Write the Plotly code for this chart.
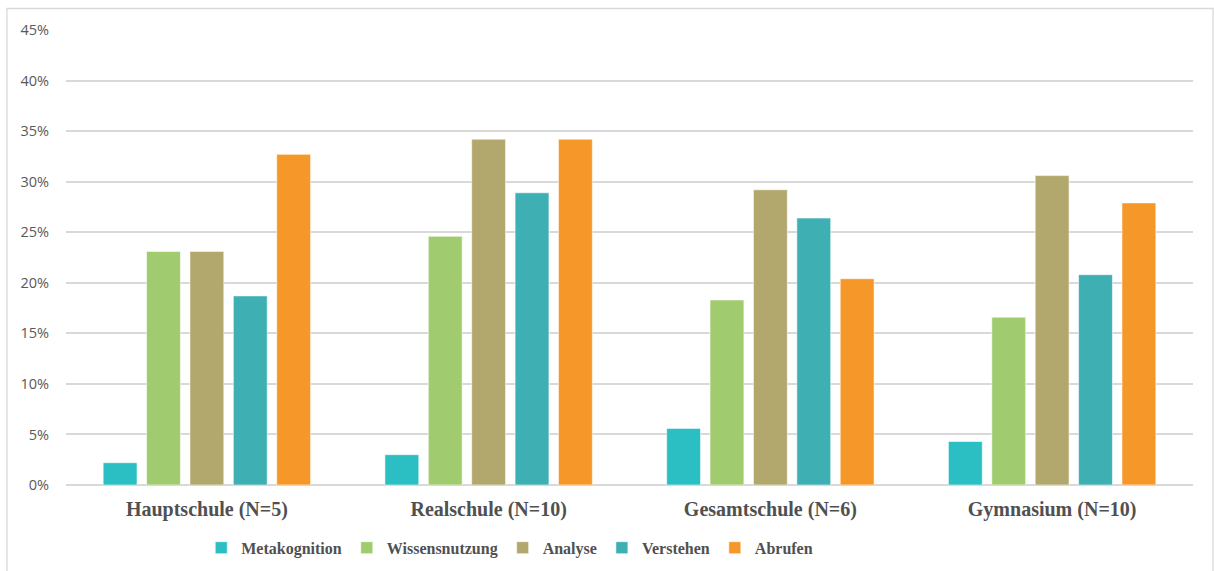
import plotly.graph_objects as go

# School types on the x axis
schools = ["Hauptschule (N=5)", "Realschule (N=10)", "Gesamtschule (N=6)", "Gymnasium (N=10)"]

# Share of tasks per cognitive level (fractions of 1)
metakognition = [0.022, 0.030, 0.056, 0.043]
wissensnutzung = [0.231, 0.246, 0.183, 0.166]
analyse = [0.231, 0.342, 0.292, 0.306]
verstehen = [0.187, 0.289, 0.264, 0.208]
abrufen = [0.327, 0.342, 0.204, 0.279]

series = [
    ("Metakognition", metakognition, "#2BBFC3"),
    ("Wissensnutzung", wissensnutzung, "#A0CC6F"),
    ("Analyse", analyse, "#B2A76D"),
    ("Verstehen", verstehen, "#3EAFB3"),
    ("Abrufen", abrufen, "#F69829"),
]

fig = go.Figure()
for name, vals, color in series:
    fig.add_trace(go.Bar(
        x=schools, y=vals, name=name,
        marker=dict(color=color, line=dict(color="rgba(255,255,255,0.55)", width=1)),
    ))

# Outer chart frame
fig.add_shape(type="rect", xref="paper", yref="paper",
              x0=-0.0524, x1=1.0178, y0=-0.21, y1=1.0472,
              line=dict(color="#D9D9D9", width=1.3), fillcolor="rgba(0,0,0,0)", layer="below")

fig.update_layout(
    width=1214, height=571,
    margin=dict(l=66, r=21, t=30, b=86, autoexpand=False),
    paper_bgcolor="white", plot_bgcolor="white",
    barmode="group", bargap=0.23, bargroupgap=0.22,
    showlegend=True,
    legend=dict(orientation="h", x=0.12, xanchor="left", y=-0.138, yanchor="middle",
                font=dict(family="Liberation Serif", size=16, color="#505050"),
                itemwidth=30, traceorder="normal"),
    xaxis=dict(showgrid=False, showline=False, ticks="", ticklabelstandoff=10, automargin=False,
               tickfont=dict(family="Liberation Serif", size=20, color="#505050")),
    yaxis=dict(range=[0, 0.45], dtick=0.05, tickformat=".0%", showgrid=True, automargin=False,
               gridcolor="#D9D9D9", gridwidth=1.6, zeroline=True, zerolinecolor="#D9D9D9",
               zerolinewidth=1.6, showline=False, ticks="", ticklabelstandoff=16,
               tickfont=dict(family="Open Sans", size=14.5, color="#595959")),
)

fig.update_xaxes(tickfont_weight="bold")
fig.update_layout(legend_font_weight="bold")

fig.write_html("out.html")
